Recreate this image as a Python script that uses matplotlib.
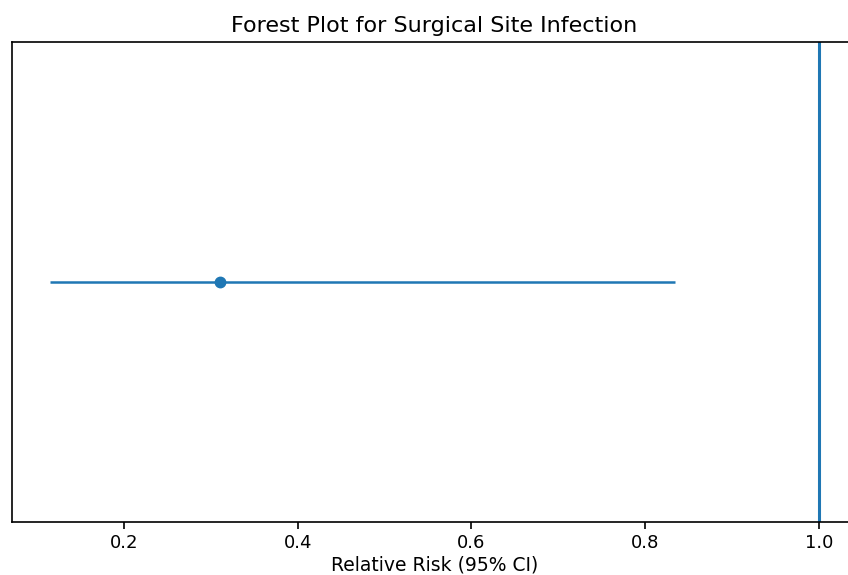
import matplotlib
matplotlib.use("Agg")
import matplotlib.pyplot as plt

# data
rr = [0.31]
ci_lower = [0.115]
ci_upper = [0.835]
y_pos = [0]

plt.rc("font", size=12)

fig = plt.figure(figsize=(8.48, 5.75), dpi=100)
# axes extends past the right edge (the reference image is cropped there)
ax = fig.add_axes([12 / 848, 53 / 575, 845 / 848, 480 / 575])

xerr = [[r - lo for r, lo in zip(rr, ci_lower)],
        [hi - r for r, hi in zip(rr, ci_upper)]]
ax.errorbar(rr, y_pos, xerr=xerr, fmt="o", color="#1f77b4",
            ms=7.5, elinewidth=1.8, capsize=0)
ax.axvline(1.0, color="#1f77b4", lw=2.2)

ax.set_xlim(0.071, 1.044)
ax.set_ylim(-1, 1)
ax.set_yticks([])
ax.set_xticks([0.2, 0.4, 0.6, 0.8, 1.0])
ax.tick_params(axis="x", labelsize=13, length=5, width=1.2, pad=4)
for sp in ax.spines.values():
    sp.set_linewidth(1.2)

ax.set_xlabel("Relative Risk (95% CI)", fontsize=13.5, labelpad=2)
ax.set_title("Forest Plot for Surgical Site Infection", fontsize=16, pad=7)

fig.savefig("out.png", dpi=100)
